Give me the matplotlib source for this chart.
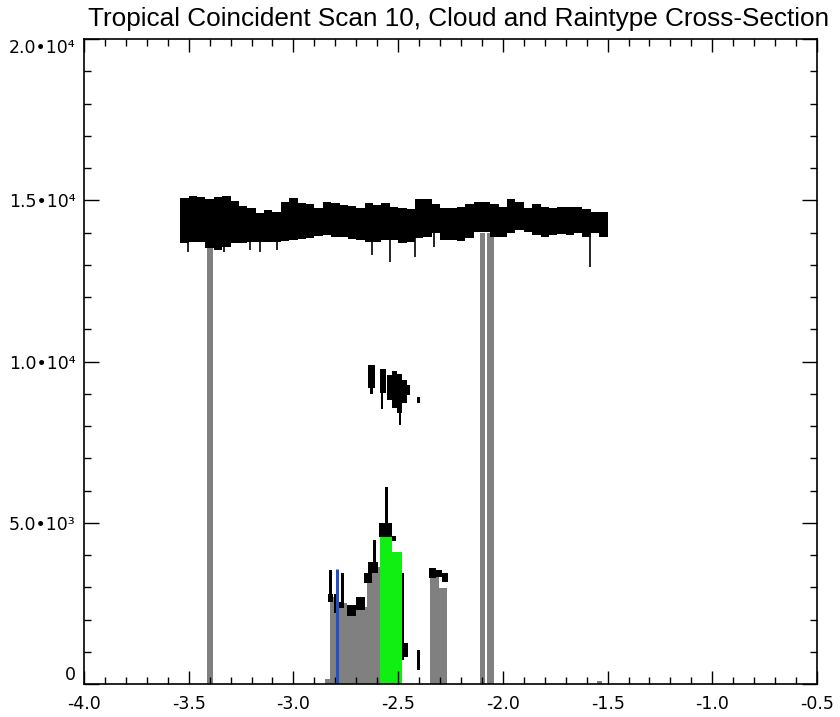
import numpy as np
import matplotlib
matplotlib.use('Agg')
import matplotlib.pyplot as plt
from matplotlib.ticker import MultipleLocator, FixedLocator, FixedFormatter

plt.rcParams['font.family'] = ['Liberation Sans', 'DejaVu Sans']
plt.rcParams['axes.unicode_minus'] = False

# upper cloud band, one column every 0.04 along track
band_step = 0.04
band_x = np.arange(51) * band_step - 3.54
band_top = [15060, 15132, 15090, 15039, 15090, 15132, 14987, 14822, 14750, 14594,
            14698, 14646, 14956, 15060, 14925, 14884, 14750, 14956, 14925, 14853,
            14822, 14750, 14925, 14853, 14925, 14801, 14750, 14718, 15028, 15028,
            14884, 14750, 14750, 14801, 14884, 14956, 14956, 14884, 14801, 15028,
            14956, 14750, 14884, 14801, 14750, 14780, 14780, 14801, 14718, 14646,
            14646]
band_base = [13664, 13716, 13716, 13509, 13457, 13560, 13685, 13664, 13716, 13716,
             13716, 13716, 13747, 13768, 13788, 13819, 13892, 13923, 13871, 13850,
             13788, 13768, 13716, 13716, 13768, 13768, 13664, 13716, 13819, 13871,
             13974, 13768, 13768, 13747, 13819, 14026, 14026, 13850, 13871, 13974,
             14078, 14026, 13923, 13871, 13923, 13954, 13923, 13974, 13871, 13974,
             13871]

# thin streaks hanging below the band
drip_x = [-3.502, -3.331, -3.207, -3.159, -3.079, -2.625, -2.541, -2.419, -2.331, -1.586]
drip_bottom = [13406, 13406, 13457, 13406, 13457, 13302, 13096, 13251, 13550, 12940]

# lower / mid level cloud pieces: left, right, base, top
cld_x0 = [-2.828, -2.835, -2.805, -2.771, -2.785, -2.745, -2.700, -2.665, -2.642,
          -2.618, -2.590, -2.562, -2.530, -2.483, -2.470, -2.412, -2.355, -2.320,
          -2.290, -2.642, -2.632, -2.589, -2.580, -2.554, -2.530, -2.506, -2.496,
          -2.482, -2.458, -2.410]
cld_x1 = [-2.817, -2.810, -2.790, -2.757, -2.760, -2.700, -2.660, -2.625, -2.594,
          -2.605, -2.530, -2.548, -2.510, -2.470, -2.455, -2.398, -2.320, -2.290,
          -2.262, -2.610, -2.622, -2.557, -2.572, -2.530, -2.506, -2.482, -2.487,
          -2.458, -2.442, -2.395]
cld_base = [2708, 2550, 2200, 2500, 2350, 2100, 2300, 3122, 3432, 3750, 4570, 4880,
            4420, 745, 850, 430, 3280, 3320, 3150, 9170, 9000, 9010, 8520, 8807,
            8548, 8393, 8031, 8703, 8962, 8703]
cld_top = [3535, 2800, 2800, 3430, 2550, 2450, 2700, 3430, 3793, 4450, 4980, 6120,
           4600, 3430, 1260, 1050, 3590, 3540, 3450, 9890, 9170, 9760, 9010, 9582,
           9716, 9613, 8393, 9427, 9272, 8910]

# stratiform (gray) and convective (green) rain columns
strat_x0 = [-2.849, -2.825, -2.785, -2.745, -2.689, -2.649, -2.625, -2.347, -2.307,
            -3.411, -2.108, -2.076, -1.550]
strat_x1 = [-2.825, -2.785, -2.745, -2.689, -2.649, -2.625, -2.586, -2.307, -2.267,
            -3.382, -2.083, -2.044, -1.527]
strat_top = [150, 2708, 2502, 2295, 2398, 3225, 3638, 3432, 2967, 13800, 14000,
             14000, 100]

conv_x0 = [-2.586, -2.530]
conv_x1 = [-2.530, -2.482]
conv_top = [4620, 4104]

other_x = -2.793
other_top = 3556

xticks = [-4.0, -3.5, -3.0, -2.5, -2.0, -1.5, -1.0, -0.5]
yticks = [0, 5000, 10000, 15000, 20000]
ylabels = ['0', '5.0•10³', '1.0•10⁴', '1.5•10⁴', '2.0•10⁴']

fig = plt.figure(figsize=(8.4, 7.17), dpi=100)
ax = fig.add_axes([84 / 840, 1 - 684 / 717, 733 / 840, 645 / 717])

gray = '#808080'
ax.bar(strat_x0, strat_top, width=np.subtract(strat_x1, strat_x0), align='edge',
       color=gray, linewidth=0)
ax.bar(conv_x0, conv_top, width=np.subtract(conv_x1, conv_x0), align='edge',
       color='#11ee11', linewidth=0)

# cloud mask in black
ax.bar(band_x, np.subtract(band_top, band_base), bottom=band_base, width=band_step,
       align='edge', color='black', linewidth=0)
ax.vlines(drip_x, drip_bottom, 14100, color='black', linewidth=1.2)
ax.bar(cld_x0, np.subtract(cld_top, cld_base), bottom=cld_base,
       width=np.subtract(cld_x1, cld_x0), align='edge', color='black', linewidth=0)

ax.vlines(other_x, 0, other_top, color='#2050c8', linewidth=2.2)

ax.set_xlim(-4.0, -0.5)
ax.set_ylim(0, 20000)

ax.xaxis.set_major_locator(FixedLocator(xticks))
ax.xaxis.set_minor_locator(MultipleLocator(0.1))
ax.set_xticklabels(['%.1f' % v for v in xticks], family='DejaVu Sans')
ax.yaxis.set_major_locator(FixedLocator(yticks))
ax.yaxis.set_minor_locator(MultipleLocator(1000))
ax.yaxis.set_major_formatter(FixedFormatter(ylabels))

ax.tick_params(which='both', direction='in', top=True, right=True, width=1.0,
               color='black', labelsize=12.5)
ax.tick_params(axis='x', which='major', length=9.4, pad=8)
ax.tick_params(axis='x', which='minor', length=4.7)
ax.tick_params(axis='y', which='major', length=10.6, pad=6)
ax.tick_params(axis='y', which='minor', length=5.3)
for s in ax.spines.values():
    s.set_linewidth(1.2)

labs = ax.get_yticklabels()
for lab in labs:
    lab.set_family('DejaVu Sans')
labs[0].set_verticalalignment('bottom')
labs[-1].set_verticalalignment('top')

fig.text(459 / 840, 1 - 19 / 717, 'Tropical Coincident Scan 10, Cloud and Raintype Cross-Section',
         ha='center', va='center', fontsize=18.8)

fig.savefig('out.png', dpi=100)
